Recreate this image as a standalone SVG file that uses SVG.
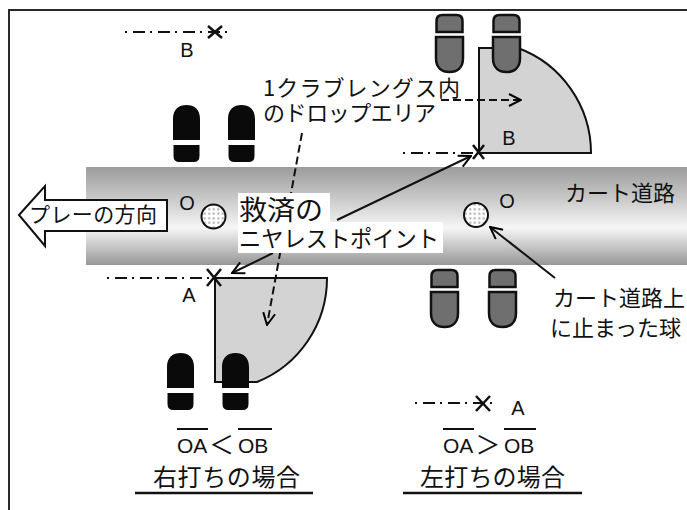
<svg xmlns="http://www.w3.org/2000/svg" width="687" height="510" viewBox="0 0 687 510">
  <defs>
    <linearGradient id="roadGrad" x1="0" y1="0" x2="0" y2="1">
      <stop offset="0" stop-color="#9c9c9c"/>
      <stop offset="0.35" stop-color="#cdcdcd"/>
      <stop offset="0.62" stop-color="#f6f6f6"/>
      <stop offset="1" stop-color="#979797"/>
    </linearGradient>
    <pattern id="dimples" width="4.5" height="4.5" patternUnits="userSpaceOnUse">
      <rect width="4.5" height="4.5" fill="#ffffff"/>
      <circle cx="2.25" cy="2.25" r="1.1" fill="#a8a8a8"/>
    </pattern>
    <!-- shoe print: toe on top, heel below -->
    <path id="shoe" d="M0,35 L0,14 C0,4 6,0 13.5,0 C21,0 27,4 27,14 L27,35 Z M0.5,40 H26.5 V51 Q26.5,57 20.5,57 H6.5 Q0.5,57 0.5,51 Z"/>
    <marker id="open" viewBox="0 0 14 14" refX="13" refY="7" markerWidth="14" markerHeight="14" markerUnits="userSpaceOnUse" orient="auto">
      <path d="M1,1 L13,7 L1,13" fill="none" stroke="#000" stroke-width="2" stroke-dasharray="none"/>
    </marker>
  </defs>
  <style>
    .jp { font-family: "Noto Sans CJK JP", "Noto Sans", sans-serif; fill: #111; }
    .lat { font-family: "Liberation Sans", Arial, sans-serif; fill: #111; }
    .dashdot { fill: none; stroke: #111; stroke-width: 2; stroke-dasharray: 2 6 12 5; }
    .xmark { stroke: #111; stroke-width: 2.5; fill: none; }
    .zone { fill: #d3d3d3; stroke: #111; stroke-width: 2; }
    .black-shoe { fill: #0a0a0a; }
    .gray-shoe { fill: #6f6f6f; stroke: #111; stroke-width: 2.5; }
    .ball { fill: url(#dimples); stroke: #111; stroke-width: 2; }
    .conn { fill: none; stroke: #111; stroke-width: 2; marker-end: url(#open); }
    .dashed { stroke-dasharray: 8 4; }
    .rule { stroke: #111; stroke-width: 2.5; }
    .bar { stroke: #111; stroke-width: 2; }
  </style>

  <rect width="687" height="510" fill="#ffffff"/>

  <!-- frame -->
  <path d="M9,510 V10 H687" fill="none" stroke="#2a2a2a" stroke-width="2"/>

  <!-- cart path -->
  <rect id="road" x="86" y="167" width="601" height="98" fill="url(#roadGrad)"/>

  <!-- direction of play -->
  <g id="play-direction">
    <polygon points="19,215 45,186 45,200 167,200 167,231 45,231 45,246" fill="#ffffff" stroke="#111" stroke-width="2"/>
    <text class="jp" x="29" y="222" font-size="21" textLength="128">プレーの方向</text>
  </g>

  <!-- drop areas -->
  <g id="zone-a">
    <path class="zone" d="M215,278 H327 A112,112 0 0 1 257,382 H215 Z"/>
  </g>
  <g id="zone-b">
    <path class="zone" d="M479,153 H591 A112,112 0 0 0 518,48 H479 Z"/>
  </g>

  <!-- reference points -->
  <g id="point-b-left">
    <line class="dashdot" x1="125" y1="32" x2="230" y2="32"/>
    <path class="xmark" d="M208,26 L222,38 M222,26 L208,38"/>
    <text class="lat" x="187" y="57" font-size="20" text-anchor="middle">B</text>
  </g>
  <g id="point-a-left">
    <line class="dashdot" x1="107" y1="278" x2="215" y2="278"/>
    <path class="xmark" d="M207,269 L221,286 M221,269 L207,286"/>
    <text class="lat" x="189" y="302" font-size="20" text-anchor="middle">A</text>
  </g>
  <g id="point-b-right">
    <line class="dashdot" x1="403" y1="153" x2="479" y2="153"/>
    <path class="xmark" d="M473,145 L484,159 M484,145 L473,159"/>
    <text class="lat" x="509" y="145" font-size="20" text-anchor="middle">B</text>
  </g>
  <g id="point-a-right">
    <line class="dashdot" x1="415" y1="403" x2="493" y2="403"/>
    <path class="xmark" d="M476,396 L490,411 M490,396 L476,411"/>
    <text class="lat" x="518" y="415" font-size="20" text-anchor="middle">A</text>
  </g>

  <!-- stance, right-handed -->
  <g id="stance-right-top">
    <use href="#shoe" class="black-shoe" x="173" y="105"/>
    <use href="#shoe" class="black-shoe" x="228" y="105"/>
  </g>
  <g id="stance-right-bottom">
    <use href="#shoe" class="black-shoe" x="167" y="353"/>
    <use href="#shoe" class="black-shoe" x="222" y="353"/>
  </g>
  <!-- stance, left-handed (toes pointing down) -->
  <g id="stance-left-top">
    <use href="#shoe" class="gray-shoe" transform="translate(463,72) rotate(180)"/>
    <use href="#shoe" class="gray-shoe" transform="translate(520,72) rotate(180)"/>
  </g>
  <g id="stance-left-bottom">
    <use href="#shoe" class="gray-shoe" transform="translate(458,327) rotate(180)"/>
    <use href="#shoe" class="gray-shoe" transform="translate(516,327) rotate(180)"/>
  </g>

  <!-- balls on the cart path -->
  <g id="ball-left">
    <circle class="ball" cx="213.5" cy="216.5" r="12"/>
    <text class="lat" x="187" y="210" font-size="20" text-anchor="middle">O</text>
  </g>
  <g id="ball-right">
    <circle class="ball" cx="476" cy="215" r="12"/>
    <text class="lat" x="507" y="208" font-size="20" text-anchor="middle">O</text>
  </g>

  <!-- connectors -->
  <g id="connectors">
    <path class="conn dashed" d="M302,133 L267,325"/>
    <path class="conn dashed" d="M441,100 L521,100"/>
    <path class="conn" d="M337,220 L471,156"/>
    <path class="conn" d="M273,253 L232,273"/>
    <path class="conn" d="M555,278 L490,227"/>
  </g>

  <!-- nearest point of relief label -->
  <g id="label-relief">
    <rect x="238" y="193" width="92" height="31" fill="#ffffff"/>
    <rect x="238" y="222" width="205" height="31" fill="#ffffff"/>
    <text class="jp">
      <tspan x="239" y="220" font-size="27" textLength="84" lengthAdjust="spacingAndGlyphs">救済の</tspan>
      <tspan x="239" y="247" font-size="23" textLength="200" lengthAdjust="spacingAndGlyphs">ニヤレストポイント</tspan>
    </text>
  </g>

  <!-- drop area label -->
  <g id="label-drop">
    <text class="jp" font-size="22">
      <tspan x="263" y="96" textLength="197">1クラブレングス内</tspan>
      <tspan x="263" y="121" textLength="173">のドロップエリア</tspan>
    </text>
  </g>

  <g id="label-cart">
    <text class="jp" x="565" y="201" font-size="22">カート道路</text>
  </g>
  <g id="label-ball">
    <text class="jp" font-size="22">
      <tspan x="553" y="306">カート道路上</tspan>
      <tspan x="550" y="336">に止まった球</tspan>
    </text>
  </g>

  <!-- right-handed caption -->
  <g id="caption-right">
    <text class="lat" x="177" y="453" font-size="21">OA</text>
    <text class="jp" x="221.5" y="454" font-size="25" text-anchor="middle">＜</text>
    <text class="lat" x="238" y="453" font-size="21">OB</text>
    <line class="bar" x1="177" y1="429" x2="208" y2="429"/>
    <line class="bar" x1="238" y1="429" x2="272" y2="429"/>
    <text class="jp" x="153" y="486" font-size="24" textLength="147">右打ちの場合</text>
    <line class="rule" x1="135" y1="493" x2="313" y2="493"/>
  </g>

  <!-- left-handed caption -->
  <g id="caption-left">
    <text class="lat" x="443" y="453" font-size="21">OA</text>
    <text class="jp" x="488" y="454" font-size="25" text-anchor="middle">＞</text>
    <text class="lat" x="504" y="453" font-size="21">OB</text>
    <line class="bar" x1="443" y1="429" x2="474" y2="429"/>
    <line class="bar" x1="504" y1="429" x2="536" y2="429"/>
    <text class="jp" x="420" y="486" font-size="24" textLength="145">左打ちの場合</text>
    <line class="rule" x1="403" y1="493" x2="582" y2="493"/>
  </g>
</svg>
